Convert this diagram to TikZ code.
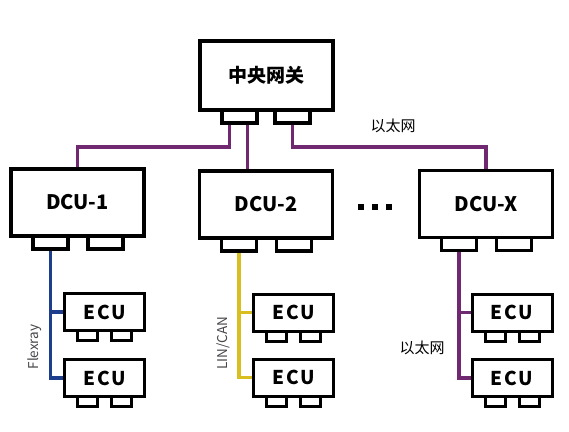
\documentclass[tikz,border=0pt]{standalone}
\usepackage{fontspec}
\setmainfont{Noto Sans CJK SC}
\usepackage{tikz}
\usetikzlibrary{positioning,calc}
\definecolor{ethColor}{RGB}{112,40,112}
\definecolor{flexColor}{RGB}{28,62,140}
\definecolor{linColor}{RGB}{216,190,32}
\definecolor{labelGray}{RGB}{70,70,75}

\begin{document}
\begin{tikzpicture}[x=1pt, y=-1pt,
    box/.style={draw, line width=3.8pt, fill=white, inner sep=0pt},
    dcu/.style={box, minimum width=133pt, minimum height=67pt, font=\bfseries\fontsize{20}{22}\selectfont},
    ecu/.style={box, line width=3pt, minimum width=80pt, minimum height=37pt,
      font=\bfseries\fontsize{19}{21}\selectfont\addfontfeature{LetterSpace=9}},
    port/.style={draw, line width=3.8pt, fill=white, inner sep=0pt, minimum width=35pt, minimum height=13pt, anchor=north},
    eport/.style={draw, line width=3pt, fill=white, inner sep=0pt, minimum width=20pt, minimum height=10pt, anchor=north},
    eth/.style={draw=ethColor, line width=3.6pt},
    flex/.style={draw=flexColor, line width=3.6pt},
    lin/.style={draw=linColor, line width=3.6pt},
    buslabel/.style={labelGray, font=\fontsize{13.5}{15}\selectfont, rotate=90}]
  \useasboundingbox (0,0) rectangle (569,431);
  % --- gateway ---
  \node[box, minimum width=133pt, minimum height=69pt, font=\bfseries\fontsize{19}{21}\selectfont]
    (gw) at (266.5,75.5) {中央网关};
  \node[port] (gwA) at ([xshift=-27pt,yshift=3.8pt]gw.south) {};
  \node[port] (gwB) at ([xshift=26pt,yshift=3.8pt]gw.south) {};
  % --- domain controllers ---
  \node[dcu] (dcu1) at (77.5,202.5) {DCU-1};
  \node[dcu] (dcu2) at (266,204.5) {DCU-2};
  \node[dcu] (dcux) at (486,204) {DCU-X};
  \foreach \d in {dcu1,dcu2,dcux} {
    \node[port] (\d A) at ([xshift=-27pt,yshift=3.8pt]\d.south) {};
    \node[port] (\d B) at ([xshift=28pt,yshift=3.8pt]\d.south) {};
  }
  \foreach \x in {361,375,389}
    \fill (\x-3,204) rectangle (\x+3,210);
  % --- ECUs ---
  \foreach \e/\x/\y in {e1a/104.5/312, e1b/104.5/378, e2a/293.5/312.5, e2b/293.5/377.5, e3a/512/312.5, e3b/512/378} {
    \node[ecu] (\e) at (\x,\y) {ECU};
    \node[eport] (\e L) at ([xshift=-17pt,yshift=3pt]\e.south) {};
    \node[eport] (\e R) at ([xshift=17pt,yshift=3pt]\e.south) {};
  }
  % --- ethernet backbone ---
  \draw[eth] ([xshift=-10pt]gwA.south) -- ++(0,22) -| (dcu1.north);
  \draw[eth] ([xshift=8pt]gwA.south) -- ([xshift=8pt]gwA.south |- dcu2.north);
  \draw[eth] (gwB.south) -- ++(0,22) -| (dcux.north);
  \node[font=\fontsize{15}{17}\selectfont] (ethTop) at (393,126) {以太网};
  % --- domain buses ---
  \draw[flex] (dcu1A.south) |- (e1a.west);
  \draw[flex] (dcu1A.south) |- (e1b.west);
  \draw[lin] (dcu2A.south) |- (e2a.west);
  \draw[lin] (dcu2A.south) |- (e2b.west);
  \draw[eth] (dcuxA.south) |- (e3a.west);
  \draw[eth] (dcuxA.south) |- (e3b.west);
  \node[buslabel] (flexLbl) at (35,347) {Flexray};
  \node[buslabel] (linLbl) at (223,343) {LIN/CAN};
  \node[font=\fontsize{15}{17}\selectfont] (ethLow) at (422,348) {以太网};
\end{tikzpicture}
\end{document}
